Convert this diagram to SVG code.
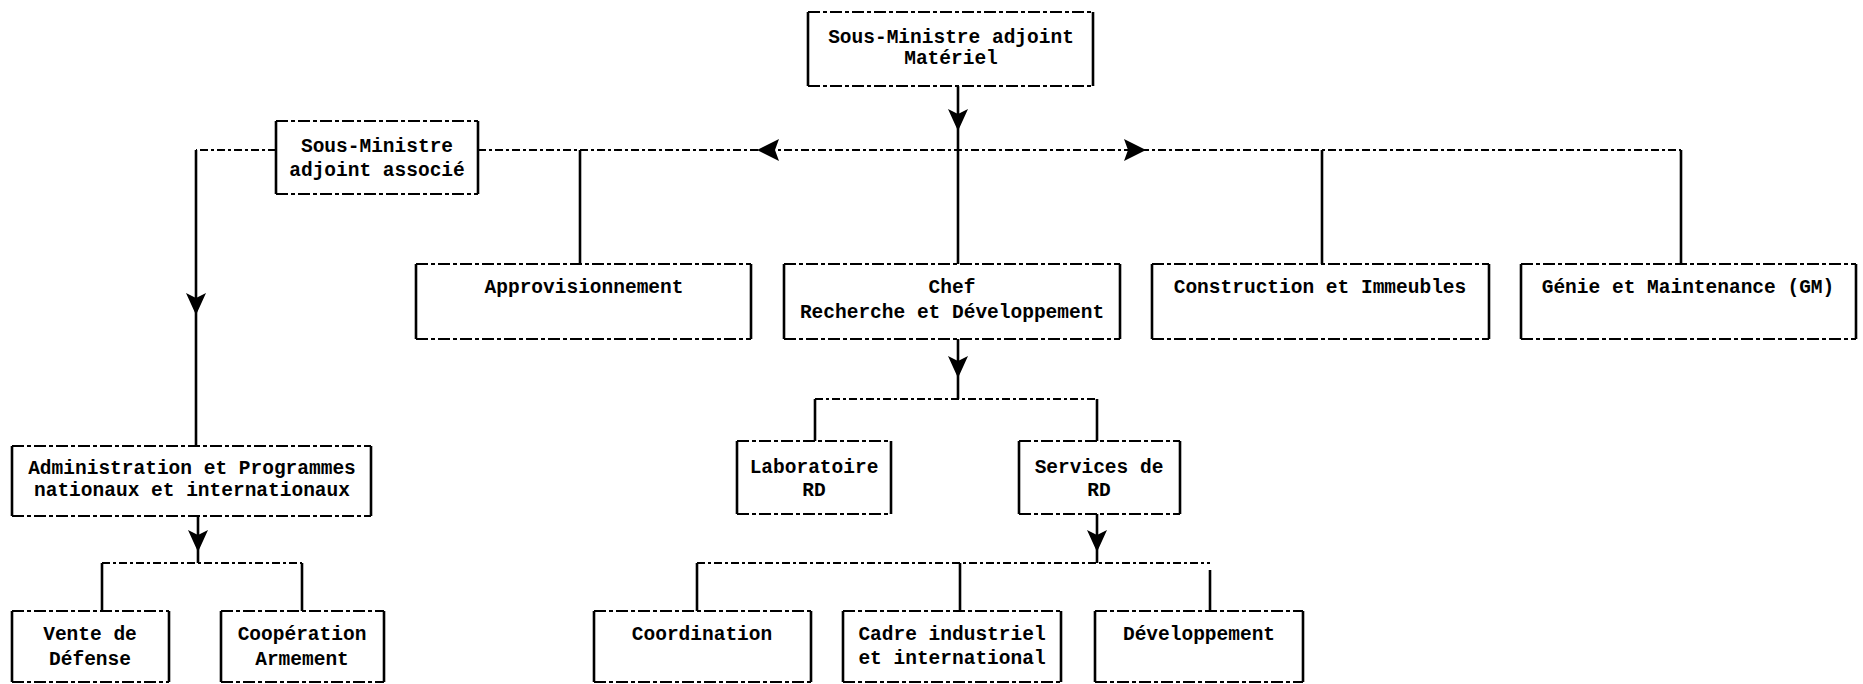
<svg xmlns="http://www.w3.org/2000/svg" width="1863" height="684" viewBox="0 0 1863 684">
<style>
  .bg{fill:#fff}
  .side{stroke:#000;stroke-width:2.6;fill:none}
  .edge{stroke:#000;stroke-width:2;fill:none;stroke-dasharray:12 3 4 3}
  .sol{stroke:#000;stroke-width:2.6;fill:none}
  .dsh{stroke:#000;stroke-width:2;fill:none;stroke-dasharray:8 3 3 3}
  .ah{stroke:none;fill:none}
  text{font-family:"Liberation Mono","DejaVu Sans Mono",monospace;font-weight:bold;font-size:19.5px;fill:#000;text-anchor:middle}
</style>
<defs>
  <marker id="arr" viewBox="0 0 20 22" refX="10" refY="22" markerWidth="20" markerHeight="22" markerUnits="userSpaceOnUse" orient="0">
    <path d="M0 0 L10 5 L20 0 L10 22 Z" fill="#000"/>
  </marker>
  <marker id="arrH" viewBox="0 0 22 22" refX="22" refY="11" markerWidth="22" markerHeight="22" markerUnits="userSpaceOnUse" orient="auto">
    <path d="M0 0 L22 11 L0 22 L4 11 Z" fill="#000"/>
  </marker>
</defs>
<rect class="bg" x="0" y="0" width="1863" height="684"/>

<g id="connectors">
  <path class="sol" d="M958 86 V131" marker-end="url(#arr)"/>
  <path class="sol" d="M958 131 V264"/>
  <path class="dsh" d="M478 150 H1681"/>
  <path class="ah" d="M790 150 H757" marker-end="url(#arrH)"/>
  <path class="ah" d="M1110 150 H1146" marker-end="url(#arrH)"/>
  <path class="sol" d="M580 150 V264"/>
  <path class="sol" d="M1322 150 V264"/>
  <path class="sol" d="M1681 150 V264"/>
  <path class="dsh" d="M276 150 H196"/>
  <path class="sol" d="M196 150 V315" marker-end="url(#arr)"/>
  <path class="sol" d="M196 315 V446"/>
  <path class="sol" d="M198 516 V552" marker-end="url(#arr)"/>
  <path class="sol" d="M198 552 V563"/>
  <path class="dsh" d="M102 563 H302"/>
  <path class="sol" d="M102 563 V611"/>
  <path class="sol" d="M302 563 V611"/>
  <path class="sol" d="M958 339 V378" marker-end="url(#arr)"/>
  <path class="sol" d="M958 378 V399"/>
  <path class="dsh" d="M815 399 H1097"/>
  <path class="sol" d="M815 399 V441"/>
  <path class="sol" d="M1097 399 V441"/>
  <path class="sol" d="M1097 514 V552" marker-end="url(#arr)"/>
  <path class="sol" d="M1097 552 V563"/>
  <path class="dsh" d="M697 563 H1210"/>
  <path class="sol" d="M697 563 V611"/>
  <path class="sol" d="M960 563 V611"/>
  <path class="sol" d="M1210 570 V611"/>
</g>

<g id="n-smam">
  <path class="side" d="M808 12 V86 M1093 12 V86"/>
  <path class="edge" d="M808 12 H1093 M808 86 H1093"/>
  <text x="951" y="43">Sous-Ministre adjoint</text>
  <text x="951" y="64">Matériel</text>
</g>
<g id="n-smaa">
  <path class="side" d="M276 121 V194 M478 121 V194"/>
  <path class="edge" d="M276 121 H478 M276 194 H478"/>
  <text x="377" y="152">Sous-Ministre</text>
  <text x="377" y="176">adjoint associé</text>
</g>
<g id="n-appro">
  <path class="side" d="M416 264 V339 M751 264 V339"/>
  <path class="edge" d="M416 264 H751 M416 339 H751"/>
  <text x="584" y="293">Approvisionnement</text>
</g>
<g id="n-chef">
  <path class="side" d="M784 264 V339 M1120 264 V339"/>
  <path class="edge" d="M784 264 H1120 M784 339 H1120"/>
  <text x="952" y="293">Chef</text>
  <text x="952" y="318">Recherche et Développement</text>
</g>
<g id="n-constr">
  <path class="side" d="M1152 264 V339 M1489 264 V339"/>
  <path class="edge" d="M1152 264 H1489 M1152 339 H1489"/>
  <text x="1320" y="293">Construction et Immeubles</text>
</g>
<g id="n-genie">
  <path class="side" d="M1521 264 V339 M1856 264 V339"/>
  <path class="edge" d="M1521 264 H1856 M1521 339 H1856"/>
  <text x="1688" y="293">Génie et Maintenance (GM)</text>
</g>
<g id="n-admin">
  <path class="side" d="M12 446 V516 M371 446 V516"/>
  <path class="edge" d="M12 446 H371 M12 516 H371"/>
  <text x="192" y="474">Administration et Programmes</text>
  <text x="192" y="496">nationaux et internationaux</text>
</g>
<g id="n-vente">
  <path class="side" d="M12 611 V682 M169 611 V682"/>
  <path class="edge" d="M12 611 H169 M12 682 H169"/>
  <text x="90" y="640">Vente de</text>
  <text x="90" y="665">Défense</text>
</g>
<g id="n-coop">
  <path class="side" d="M221 611 V682 M384 611 V682"/>
  <path class="edge" d="M221 611 H384 M221 682 H384"/>
  <text x="302" y="640">Coopération</text>
  <text x="302" y="665">Armement</text>
</g>
<g id="n-labo">
  <path class="side" d="M737 441 V514 M891 441 V514"/>
  <path class="edge" d="M737 441 H891 M737 514 H891"/>
  <text x="814" y="473">Laboratoire</text>
  <text x="814" y="496">RD</text>
</g>
<g id="n-serv">
  <path class="side" d="M1019 441 V514 M1180 441 V514"/>
  <path class="edge" d="M1019 441 H1180 M1019 514 H1180"/>
  <text x="1099" y="473">Services de</text>
  <text x="1099" y="496">RD</text>
</g>
<g id="n-coord">
  <path class="side" d="M594 611 V682 M811 611 V682"/>
  <path class="edge" d="M594 611 H811 M594 682 H811"/>
  <text x="702" y="640">Coordination</text>
</g>
<g id="n-cadre">
  <path class="side" d="M843 611 V682 M1061 611 V682"/>
  <path class="edge" d="M843 611 H1061 M843 682 H1061"/>
  <text x="952" y="640">Cadre industriel</text>
  <text x="952" y="664">et international</text>
</g>
<g id="n-dev">
  <path class="side" d="M1095 611 V682 M1303 611 V682"/>
  <path class="edge" d="M1095 611 H1303 M1095 682 H1303"/>
  <text x="1199" y="640">Développement</text>
</g>
</svg>
